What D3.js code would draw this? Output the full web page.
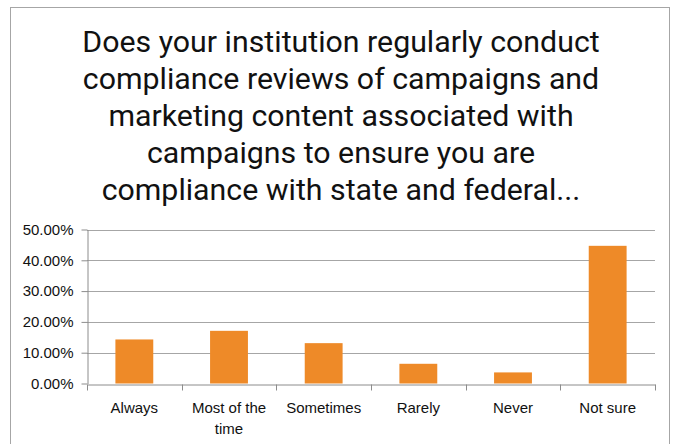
<!DOCTYPE html>
<html lang="en">
<head>
<meta charset="UTF-8">
<title>Compliance reviews</title>
<script src="https://d3js.org/d3.v7.min.js"></script>
<style>
  body { margin: 0; background: #fff; }
  svg { display: block; }
</style>
</head>
<body>
<svg width="676" height="444"></svg>
<script>
const titleLines = [
  "Does your institution regularly conduct",
  "compliance reviews of campaigns and",
  "marketing content associated with",
  "campaigns to ensure you are",
  "compliance with state and federal..."
];
const categories = ["Always", "Most of the time", "Sometimes", "Rarely", "Never", "Not sure"];
const values = [0.143, 0.171, 0.131, 0.064, 0.036, 0.447];
const yTicks = [0, 0.1, 0.2, 0.3, 0.4, 0.5];

const svg = d3.select("svg");

// outer chart border
svg.append("rect")
    .attr("x", 10.5).attr("y", 7.5)
    .attr("width", 659).attr("height", 460)
    .attr("fill", "#fff")
    .attr("stroke", "#a6a6a6");

// title
const title = svg.append("text")
    .attr("text-anchor", "middle")
    .attr("font-family", "Roboto, 'Liberation Sans Narrow', sans-serif")
    .attr("font-size", 29)
    .attr("fill", "#111");

titleLines.forEach((line, i) => {
    title.append("tspan")
        .attr("x", 341)
        .attr("y", 52 + i * 37)
        .text(line);
});
// stretch a little so line widths match the original font
title.selectAll("tspan").each(function () {
    const w = this.getComputedTextLength();
    d3.select(this).attr("textLength", w * 1.045).attr("lengthAdjust", "spacingAndGlyphs");
});

const margin = { top: 229.5, left: 87, right: 655, bottom: 383.5 };

const x = d3.scaleBand()
    .domain(categories)
    .range([margin.left, margin.right])
    .paddingInner(0.6)
    .paddingOuter(0.3);

const y = d3.scaleLinear()
    .domain([0, 0.5])
    .range([margin.bottom, margin.top]);

// gridlines
svg.append("g")
    .selectAll("line")
    .data(yTicks.slice(1))
    .join("line")
    .attr("x1", margin.left).attr("x2", margin.right)
    .attr("y1", d => Math.round(y(d)) + 0.5).attr("y2", d => Math.round(y(d)) + 0.5)
    .attr("stroke", "#a6a6a6");

// bars
svg.append("g")
    .selectAll("rect")
    .data(categories)
    .join("rect")
    .attr("x", d => x(d))
    .attr("y", (d, i) => y(values[i]))
    .attr("width", x.bandwidth())
    .attr("height", (d, i) => y(0) - y(values[i]))
    .attr("fill", "#ee8a28");

// y axis
const yAxis = svg.append("g")
    .attr("transform", `translate(${margin.left + 0.5},0)`)
    .call(d3.axisLeft(y).tickValues(yTicks).tickSize(6).tickSizeOuter(0).tickFormat(d3.format(".2%")));

// x axis, ticks fall on band edges
const xAxis = svg.append("g")
    .attr("transform", `translate(0,${Math.round(y(0)) + 0.5})`)
    .call(d3.axisBottom(x).tickSize(0).tickSizeOuter(0));

const step = x.step();
xAxis.selectAll(".edge")
    .data(d3.range(categories.length + 1))
    .join("line")
    .attr("class", "edge")
    .attr("x1", i => Math.round(margin.left + i * step) + 0.5)
    .attr("x2", i => Math.round(margin.left + i * step) + 0.5)
    .attr("y1", 0).attr("y2", 6);

[yAxis, xAxis].forEach(a => {
    a.selectAll(".domain, line").attr("stroke", "#8c8c8c");
    a.selectAll("text")
        .attr("font-family", "'Liberation Sans', Arial, sans-serif")
        .attr("font-size", 15)
        .attr("fill", "#111");
});
yAxis.selectAll("text").attr("x", -14);

// wrap long category labels
xAxis.selectAll(".tick text").each(function () {
    const t = d3.select(this);
    const words = t.text().split(" ");
    t.text(null).attr("y", 0).attr("dy", null);
    let line = [];
    let lines = [];
    const probe = t.append("tspan");
    words.forEach(w => {
        probe.text([...line, w].join(" "));
        if (probe.node().getComputedTextLength() > step - 2 && line.length) {
            lines.push(line.join(" "));
            line = [w];
        } else {
            line.push(w);
        }
    });
    lines.push(line.join(" "));
    probe.remove();
    lines.forEach((l, i) => {
        t.append("tspan").attr("x", 0).attr("y", 28 + i * 21).text(l);
    });
});
</script>
</body>
</html>
